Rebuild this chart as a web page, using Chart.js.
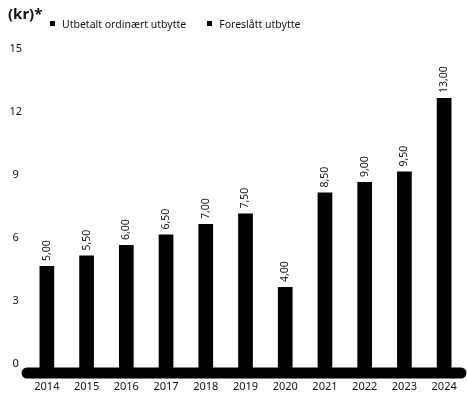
<!DOCTYPE html>
<html lang="no">
<head>
<meta charset="utf-8">
<script src="https://cdn.jsdelivr.net/npm/chart.js@4.4.1/dist/chart.umd.min.js"></script>
<style>
  html, body { margin: 0; padding: 0; background: #fff; }
  .wrap { position: relative; width: 467px; height: 394px; font-family: "Noto Sans", sans-serif; color: #111; }
  .unit { position: absolute; left: 8px; top: 3px; font-size: 15px; font-weight: 700; }
  .legend { position: absolute; left: 50px; top: 17px; font-size: 10.5px; display: flex; gap: 21px; }
  .legend span::before { content: ""; display: inline-block; width: 5px; height: 5px; background: #000; margin-right: 7px; vertical-align: 2px; }
  canvas { position: absolute; left: 0; top: 0; }
</style>
</head>
<body>
<div class="wrap">
  <canvas id="chart" width="467" height="394"></canvas>
  <div class="unit">(kr)*</div>
  <div class="legend" id="legend"></div>
</div>
<script>
const years = ['2014','2015','2016','2017','2018','2019','2020','2021','2022','2023','2024'];
const paid = [5.00, 5.50, 6.00, 6.50, 7.00, 7.50, 4.00, 8.50, 9.00, 9.50, null];
const proposed = [null, null, null, null, null, null, null, null, null, null, 13.00];
const seriesNames = ['Utbetalt ordinært utbytte', 'Foreslått utbytte'];
const yTicks = [0, 3, 6, 9, 12, 15];

const fmt = v => v.toFixed(2).replace('.', ',');

// rotated value labels above each bar
const valueLabels = {
  id: 'valueLabels',
  afterDatasetsDraw(chart) {
    const ctx = chart.ctx;
    ctx.save();
    ctx.font = '10.5px "Noto Sans", sans-serif';
    ctx.fillStyle = '#111';
    ctx.textAlign = 'left';
    ctx.textBaseline = 'middle';
    chart.data.datasets.forEach((ds, i) => {
      chart.getDatasetMeta(i).data.forEach((bar, j) => {
        const v = ds.data[j];
        if (v == null) return;
        ctx.save();
        ctx.translate(bar.x, bar.y - 5);
        ctx.rotate(-Math.PI / 2);
        ctx.fillText(fmt(v), 0, 0);
        ctx.restore();
      });
    });
    ctx.restore();
  }
};

// heavy rounded baseline
const baseLine = {
  id: 'baseLine',
  afterDatasetsDraw(chart) {
    const { ctx, chartArea, scales } = chart;
    const y = scales.y.getPixelForValue(0) + 2;
    ctx.save();
    ctx.strokeStyle = '#000';
    ctx.lineWidth = 11;
    ctx.lineCap = 'round';
    ctx.beginPath();
    ctx.moveTo(chartArea.left, y);
    ctx.lineTo(chartArea.right - 3, y);
    ctx.stroke();
    ctx.restore();
  }
};

document.getElementById('legend').innerHTML = seriesNames.map(n => `<span>${n}</span>`).join('');

new Chart(document.getElementById('chart'), {
  type: 'bar',
  data: {
    labels: years,
    datasets: [
      { label: seriesNames[0], data: paid, backgroundColor: '#000', grouped: false },
      { label: seriesNames[1], data: proposed, backgroundColor: '#000', grouped: false }
    ]
  },
  options: {
    responsive: false,
    animation: false,
    categoryPercentage: 1,
    barPercentage: 0.37,
    layout: { padding: { top: 56, right: 3, bottom: 0, left: 0 } },
    plugins: { legend: { display: false }, tooltip: { enabled: false } },
    scales: {
      x: {
        afterFit: s => { s.height = 23; },
        grid: { display: false, drawTicks: false },
        border: { display: false },
        ticks: { color: '#111', padding: 9, font: { size: 11, family: '"Noto Sans", sans-serif' } }
      },
      y: {
        min: 0, max: 15,
        afterBuildTicks: s => { s.ticks = yTicks.map(v => ({ value: v })); },
        afterFit: s => { s.width = 27; },
        grid: { display: false, drawTicks: false },
        border: { display: false },
        ticks: { color: '#111', padding: 5, crossAlign: 'center', labelOffset: -7,
                 font: { size: 11, family: '"Noto Sans", sans-serif' } }
      }
    }
  },
  plugins: [valueLabels, baseLine]
});
</script>
</body>
</html>
